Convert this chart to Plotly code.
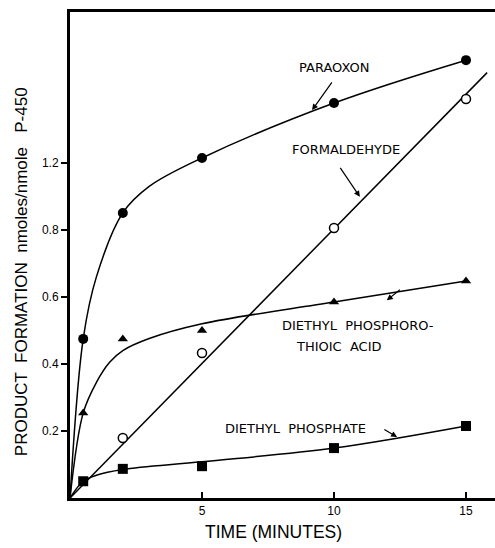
import numpy as np
import plotly.graph_objects as go

# ---- data (time in minutes, linear axis units) ----
time_pts = [0.5, 2, 5, 10, 15]
paraoxon = [0.475, 0.851, 1.015, 1.179, 1.307]
formaldehyde_t = [2, 5, 10, 15]
formaldehyde = [0.179, 0.433, 0.806, 1.191]
thioic = [0.254, 0.475, 0.50, 0.585, 0.648]
phosphate = [0.05, 0.087, 0.095, 0.149, 0.215]

# hand-drawn smooth curves
paraoxon_curve_t = [0, 0.5, 1, 2, 3, 5, 10, 15]
paraoxon_curve_y = [0, 0.475, 0.66, 0.851, 0.93, 1.015, 1.179, 1.307]
thioic_curve_t = [0, 0.5, 1, 1.5, 2, 3, 5, 10, 15]
thioic_curve_y = [0, 0.254, 0.345, 0.405, 0.44, 0.476, 0.52, 0.585, 0.648]
phosphate_curve_t = [0, 0.5, 1, 2, 5, 10, 15]
phosphate_curve_y = [0, 0.05, 0.068, 0.085, 0.108, 0.149, 0.215]
formaldehyde_line_end = 15.8

# tick labels (as printed on the original, including its "1.2")
y_tickvals = [0.2, 0.4, 0.6, 0.8, 1.0]
y_ticktext = ["0.2", "0.4", "0.6", "0.8", "1.2"]
x_tickvals = [5, 10, 15]
x_ticktext = ["5", "10", "15"]

FONT = "Liberation Sans, Arial, sans-serif"
LFONT = "DejaVu Sans, sans-serif"
LW = 1.5

fig = go.Figure()

# Paraoxon
fig.add_trace(go.Scatter(x=paraoxon_curve_t, y=paraoxon_curve_y, mode="lines",
                         line=dict(color="black", width=LW, shape="spline", smoothing=1.0),
                         hoverinfo="skip"))
fig.add_trace(go.Scatter(x=time_pts, y=paraoxon, mode="markers",
                         marker=dict(symbol="circle", size=10, color="black")))

# Formaldehyde (straight line through origin, least squares)
ft = np.array(formaldehyde_t, dtype=float)
fy = np.array(formaldehyde, dtype=float)
slope = float((ft * fy).sum() / (ft * ft).sum())
fig.add_trace(go.Scatter(x=[0, formaldehyde_line_end], y=[0, slope * formaldehyde_line_end],
                         mode="lines", line=dict(color="black", width=LW), hoverinfo="skip"))
fig.add_trace(go.Scatter(x=formaldehyde_t, y=formaldehyde, mode="markers",
                         marker=dict(symbol="circle", size=9, color="white",
                                     line=dict(color="black", width=1.5))))

# Diethyl phosphorothioic acid
fig.add_trace(go.Scatter(x=thioic_curve_t, y=thioic_curve_y, mode="lines",
                         line=dict(color="black", width=LW, shape="spline", smoothing=1.0),
                         hoverinfo="skip"))
fig.add_trace(go.Scatter(x=time_pts, y=thioic, mode="markers",
                         marker=dict(symbol="triangle-up", size=9, color="black")))

# Diethyl phosphate
fig.add_trace(go.Scatter(x=phosphate_curve_t, y=phosphate_curve_y, mode="lines",
                         line=dict(color="black", width=LW, shape="spline", smoothing=1.0),
                         hoverinfo="skip"))
fig.add_trace(go.Scatter(x=time_pts, y=phosphate, mode="markers",
                         marker=dict(symbol="square", size=10, color="black")))

lab_font = dict(family=LFONT, size=13, color="black")
arrow = dict(text="", showarrow=True, arrowhead=2, arrowsize=1, arrowwidth=1.2,
             arrowcolor="black", axref="x", ayref="y")
annotations = [
    dict(x=10.0, y=1.285, text="PARAOXON", showarrow=False, font=lab_font),
    dict(x=9.17, y=1.158, ax=9.96, ay=1.245, **arrow),
    dict(x=10.45, y=1.04, text="FORMALDEHYDE", showarrow=False, font=lab_font),
    dict(x=10.98, y=0.899, ax=10.2, ay=0.99, **arrow),
    dict(x=10.9, y=0.515, text="DIETHYL  PHOSPHORO-", showarrow=False, font=lab_font),
    dict(x=10.2, y=0.453, text="THIOIC  ACID", showarrow=False, font=lab_font),
    dict(x=12.0, y=0.59, ax=12.55, ay=0.625, **arrow),
    dict(x=8.55, y=0.207, text="DIETHYL  PHOSPHATE", showarrow=False, font=lab_font),
    dict(x=12.39, y=0.182, ax=11.85, ay=0.207, **arrow),
    # axis titles
    dict(x=-0.115, y=0.465, xref="paper", yref="paper",
         text="PRODUCT  FORMATION  nmoles/nmole   P-450", textangle=-90,
         showarrow=False, font=dict(family=FONT, size=17, color="black"),
         xanchor="center", yanchor="middle"),
    dict(x=0.479, y=-0.07, xref="paper", yref="paper", text="TIME (MINUTES)",
         showarrow=False, font=dict(family=FONT, size=17.5, color="black"),
         xanchor="center", yanchor="middle"),
]

fig.update_layout(
    width=495, height=548,
    margin=dict(l=70, r=0, t=12, b=50),
    paper_bgcolor="white", plot_bgcolor="white",
    showlegend=False,
    annotations=annotations,
    xaxis=dict(range=[0, 425 / 26.4], showgrid=False, zeroline=False,
               showline=True, linecolor="black", linewidth=3, mirror=True,
               ticks="inside", ticklen=6, tickwidth=1.5, tickcolor="black",
               tickvals=x_tickvals, ticktext=x_ticktext,
               tickfont=dict(family=FONT, size=12, color="black")),
    yaxis=dict(range=[0, 486 / 335], showgrid=False, zeroline=False,
               showline=True, linecolor="black", linewidth=3,
               ticks="outside", ticklen=6, tickwidth=1.5, tickcolor="black",
               tickvals=y_tickvals, ticktext=y_ticktext,
               tickfont=dict(family=FONT, size=12, color="black")),
)

fig.write_html("out.html")
